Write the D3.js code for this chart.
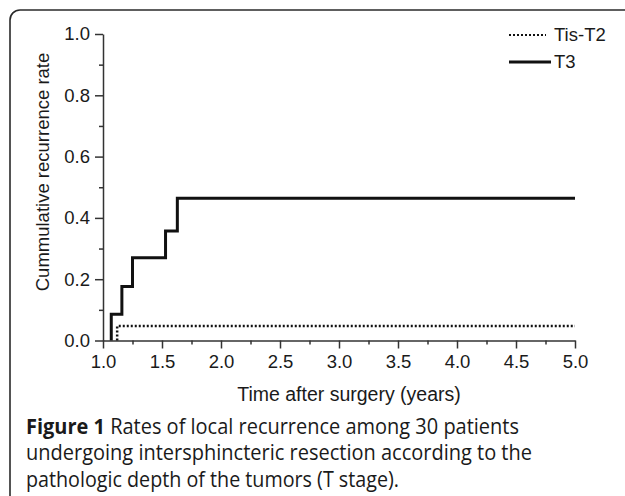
<!DOCTYPE html>
<html><head><meta charset="utf-8">
<script src="https://cdn.jsdelivr.net/npm/d3@7"></script>
<style>
html,body{margin:0;padding:0;background:#fff;}
svg{display:block;}
text{font-family:"Liberation Sans",Arial,Helvetica,sans-serif;fill:#1a1a1a;}
.cap{font-family:"Open Sans","Noto Sans",sans-serif;}
</style></head>
<body>
<script>
// ---- data ----
const t3Times = [1.07, 1.07, 1.16, 1.25, 1.53, 1.63, 5.0];
const t3Rates = [0.0, 0.086, 0.176, 0.27, 0.357, 0.464, 0.464];
const tisTimes = [1.12, 1.12, 5.0];
const tisRates = [0.0, 0.047, 0.047];
const seriesNames = ["Tis-T2", "T3"];
const xTicks = [1.0, 1.5, 2.0, 2.5, 3.0, 3.5, 4.0, 4.5, 5.0];
const xMinorTicks = [1.25, 1.75, 2.25, 2.75, 3.25, 3.75, 4.25, 4.75];
const yTicks = [0.0, 0.2, 0.4, 0.6, 0.8, 1.0];
const yMinorTicks = [0.1, 0.3, 0.5, 0.7, 0.9];
const xLabel = "Time after surgery (years)";
const yLabel = "Cummulative recurrence rate";
const captionBold = "Figure 1";
const captionLines = [
  " Rates of local recurrence among 30 patients",
  "undergoing intersphincteric resection according to the",
  "pathologic depth of the tumors (T stage)."
];

const W = 625, H = 496;
const svg = d3.select("body").append("svg").attr("width", W).attr("height", H);

// frame with rounded corner
svg.append("rect").attr("x", 10).attr("y", 10).attr("width", 700).attr("height", 600)
  .attr("rx", 10).attr("fill", "none").attr("stroke", "#2a2a2a").attr("stroke-width", 1.6);

const x = d3.scaleLinear().domain([1, 5]).range([103, 575]);
const y = d3.scaleLinear().domain([0, 1]).range([340.5, 34]);

const axisColor = "#333";
// x axis
const gx = svg.append("g").attr("transform", `translate(0,${y(0)})`);
gx.call(d3.axisBottom(x).tickValues(xMinorTicks).tickSize(4).tickFormat(""));
gx.call(g => g.select(".domain").remove());
const gx2 = svg.append("g").attr("transform", `translate(0,${y(0)})`);
gx2.call(d3.axisBottom(x).tickValues(xTicks).tickSize(8).tickSizeOuter(0).tickPadding(6).tickFormat(d3.format(".1f")));
[gx, gx2].forEach(g => {
  g.selectAll("line").attr("stroke", axisColor).attr("stroke-width", 1.5);
  g.selectAll(".domain").attr("stroke", axisColor).attr("stroke-width", 1.5);
  g.selectAll("text").attr("font-size", 18.5).attr("font-family", "Liberation Sans, Arial, sans-serif").attr("fill", "#1a1a1a");
});

// y axis
const gy = svg.append("g").attr("transform", `translate(${x(1)},0)`);
gy.call(d3.axisLeft(y).tickValues(yMinorTicks).tickSize(4).tickFormat(""));
gy.call(g => g.select(".domain").remove());
const gy2 = svg.append("g").attr("transform", `translate(${x(1)},0)`);
gy2.call(d3.axisLeft(y).tickValues(yTicks).tickSize(8).tickSizeOuter(0).tickPadding(5).tickFormat(d3.format(".1f")));
[gy, gy2].forEach(g => {
  g.selectAll("line").attr("stroke", axisColor).attr("stroke-width", 1.5);
  g.selectAll(".domain").attr("stroke", axisColor).attr("stroke-width", 1.5);
  g.selectAll("text").attr("font-size", 18.5).attr("font-family", "Liberation Sans, Arial, sans-serif").attr("fill", "#1a1a1a");
});

// axis labels
svg.append("text").attr("x", 349).attr("y", 401).attr("text-anchor", "middle")
  .attr("font-size", 19.5).text(xLabel);
svg.append("text").attr("transform", `translate(49,172) rotate(-90)`).attr("text-anchor", "middle")
  .attr("font-size", 18.5).text(yLabel);

// curves
const line = d3.line().x(d => x(d[0])).y(d => y(d[1])).curve(d3.curveStepAfter);
const tisData = tisTimes.map((t, i) => [t, tisRates[i]]);
const t3Data = t3Times.map((t, i) => [t, t3Rates[i]]);
svg.append("path").datum(tisData).attr("d", line).attr("fill", "none")
  .attr("stroke", "#111").attr("stroke-width", 2.5).attr("stroke-dasharray", "2,2");
svg.append("path").datum(t3Data).attr("d", line).attr("fill", "none")
  .attr("stroke", "#111").attr("stroke-width", 3).attr("stroke-linejoin", "miter").attr("stroke-linecap", "butt");

// legend
const legY = [35, 62];
const leg = svg.append("g");
leg.append("line").attr("x1", 509).attr("x2", 546).attr("y1", legY[0]).attr("y2", legY[0])
  .attr("stroke", "#111").attr("stroke-width", 2).attr("stroke-dasharray", "2,2");
leg.append("line").attr("x1", 509).attr("x2", 551).attr("y1", legY[1]).attr("y2", legY[1])
  .attr("stroke", "#111").attr("stroke-width", 3);
seriesNames.forEach((n, i) => {
  leg.append("text").attr("x", 554).attr("y", legY[i]).attr("dy", "0.35em")
    .attr("font-size", 18.5).text(n);
});

// caption
const capW = [493, 506, 373];
const capBase = [433.5, 460, 486.5];
captionLines.forEach((s, i) => {
  const t = svg.append("text").attr("class", "cap").attr("x", 26).attr("y", capBase[i])
    .attr("font-size", 21).attr("fill", "#1a1a1a")
    .attr("textLength", capW[i]).attr("lengthAdjust", "spacingAndGlyphs");
  if (i === 0) t.append("tspan").attr("font-weight", "bold").text(captionBold);
  t.append("tspan").text(s);
});
</script>
</body></html>
